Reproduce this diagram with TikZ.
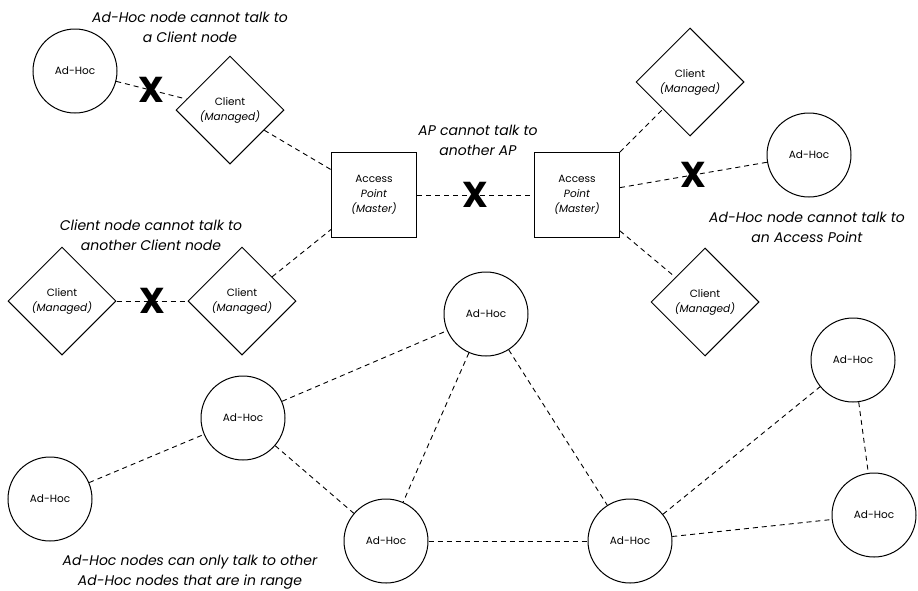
\documentclass[tikz,border=0pt]{standalone}
\usepackage{fontspec}
\setmainfont{Poppins}
\usetikzlibrary{shapes.geometric}

\tikzstyle{adhoc}=[draw,line width=1pt,circle,minimum size=84pt,inner sep=0pt,font=\fontsize{10.5}{15}\selectfont]
\tikzstyle{client}=[draw,line width=1pt,diamond,aspect=1,minimum width=108pt,minimum height=108pt,inner sep=0pt,align=center,font=\fontsize{10.5}{15}\selectfont]
\tikzstyle{master}=[draw,line width=1pt,rectangle,minimum size=85pt,inner sep=0pt,align=center,font=\fontsize{10.5}{15}\selectfont]
\tikzstyle{link}=[draw,line width=0.9pt,dash pattern=on 5pt off 4pt]
\tikzstyle{cross}=[inner sep=0pt,font=\fontsize{36}{36}\bfseries\selectfont]
\tikzstyle{note}=[align=center,font=\fontsize{14}{20}\itshape\selectfont]

\begin{document}
\begin{tikzpicture}[x=1pt, y=-1pt]
    \useasboundingbox (0,0) rectangle (918,590);
    % First we draw the nodes
    \foreach \pos/\name in {{(75,71)/ah1}, {(809,155)/ah2}, {(486,314)/ah3}, {(243,418)/ah4},
                            {(50,499)/ah5}, {(386,541)/ah6}, {(630,541)/ah7}, {(853,360)/ah8}, {(874,515)/ah9}}
        \node[adhoc] (\name) at \pos {Ad-Hoc};
    \foreach \pos/\name in {{(230,110)/c1}, {(690,82)/c2}, {(705,302)/c3}, {(62,301)/c4}, {(242,301)/c5}}
        \node[client] (\name) at \pos {Client\\\textit{(Managed)}};
    \foreach \pos/\name in {{(374,195)/ap1}, {(577,195)/ap2}}
        \node[master] (\name) at \pos {Access\\\textit{Point}\\\textit{(Master)}};
    % Links that work
    \foreach \source/\dest in {c1/ap1,c5/ap1,ap2/c2,ap2/c3,ah5/ah4,ah4/ah3,ah4/ah6,ah3/ah6,ah3/ah7,ah6/ah7,ah7/ah8,ah7/ah9,ah8/ah9}
        \path[link] (\source) -- (\dest);
    % Links that cannot talk
    \foreach \source/\dest in {ah1/c1,ap1/ap2,c4/c5,ap2/ah2}
        \path[link] (\source) -- node[cross] {X} (\dest);
    % Notes
    \node[note] (n1) at (190,27) {Ad-Hoc node cannot talk to\\a Client node};
    \node[note] (n2) at (478,140) {AP cannot talk to\\another AP};
    \node[note] (n3) at (151,235) {Client node cannot talk to\\another Client node};
    \node[note] (n4) at (807,227) {Ad-Hoc node cannot talk to\\an Access Point};
    \node[note] (n5) at (190,572) {Ad-Hoc nodes can only talk to other\\Ad-Hoc nodes that are in range};
\end{tikzpicture}
\end{document}
